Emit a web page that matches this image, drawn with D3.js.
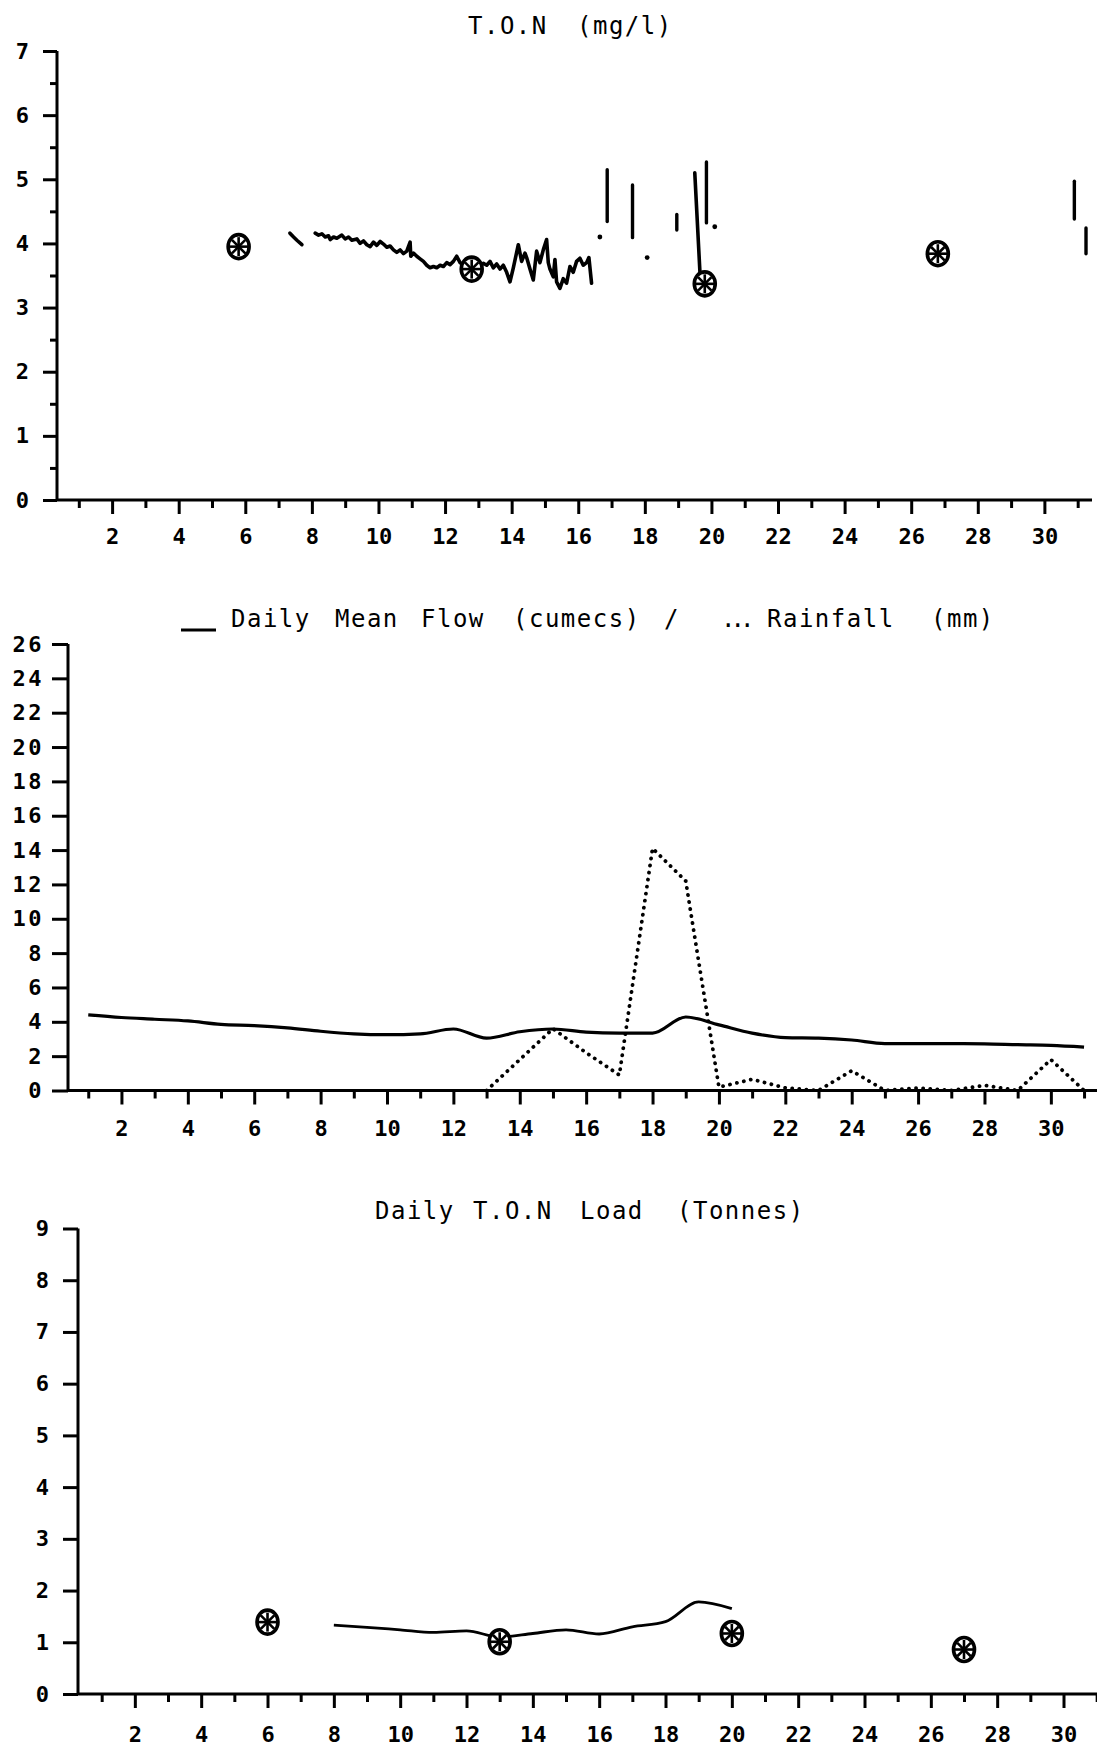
<!DOCTYPE html>
<html>
<head>
<meta charset="utf-8">
<script src="https://cdn.jsdelivr.net/npm/d3@7"></script>
<style>
  body { margin: 0; background: #fff; }
  svg { display: block; }
  text { font-family: "DejaVu Sans Mono", monospace; fill: #000; }
  .tick text { font-size: 22px; font-weight: bold; }
  .title { font-size: 24px; letter-spacing: 1.5px; }
  .domain, .tick line { stroke: #000; stroke-width: 3; }
</style>
</head>
<body>
<div id="chart"></div>
<script>
// ---------- data ----------
const dayTicks = d3.range(1, 32);
const dayLabels = d3.range(2, 31, 2);

// T.O.N (mg/l): spot samples and the continuous monitor trace
const tonSampleDays = [5.8, 12.8, 19.8, 26.8];
const tonSampleValues = [3.95, 3.6, 3.37, 3.84];
const tonTraceA = [[7.34, 4.16], [7.45, 4.10], [7.55, 4.05], [7.7, 3.98]];
const tonTraceB = [
  [8.1, 4.16], [8.2, 4.13], [8.3, 4.15], [8.4, 4.10], [8.5, 4.12], [8.55, 4.06], [8.65, 4.10],
  [8.75, 4.08], [8.9, 4.13], [9.0, 4.07], [9.1, 4.10], [9.2, 4.05], [9.35, 4.07], [9.45, 4.00],
  [9.55, 4.04], [9.65, 3.98], [9.75, 3.95], [9.85, 4.02], [9.95, 3.97], [10.05, 4.03], [10.15, 3.99],
  [10.25, 3.94], [10.35, 3.96], [10.45, 3.90], [10.55, 3.86], [10.65, 3.90], [10.75, 3.84],
  [10.85, 3.88], [10.95, 4.02], [10.97, 3.80], [11.05, 3.85], [11.15, 3.80], [11.25, 3.76],
  [11.35, 3.72], [11.45, 3.66], [11.55, 3.62], [11.65, 3.64], [11.75, 3.62], [11.85, 3.66],
  [11.95, 3.64], [12.05, 3.70], [12.15, 3.67], [12.25, 3.72], [12.35, 3.80], [12.45, 3.70],
  [12.55, 3.66], [12.65, 3.60], [12.75, 3.56], [12.85, 3.62], [12.95, 3.70], [13.05, 3.64],
  [13.15, 3.69], [13.25, 3.66], [13.35, 3.72], [13.45, 3.62], [13.55, 3.68], [13.65, 3.60],
  [13.75, 3.66], [13.85, 3.55], [13.95, 3.40], [14.05, 3.62], [14.15, 3.86], [14.2, 3.98],
  [14.3, 3.72], [14.4, 3.85], [14.45, 3.78], [14.55, 3.60], [14.65, 3.43], [14.75, 3.88],
  [14.85, 3.70], [14.95, 3.90], [15.05, 4.06], [15.1, 3.70], [15.15, 3.60], [15.25, 3.48],
  [15.3, 3.75], [15.35, 3.40], [15.45, 3.30], [15.55, 3.45], [15.65, 3.38], [15.75, 3.64],
  [15.85, 3.55], [15.95, 3.72], [16.05, 3.77], [16.15, 3.66], [16.25, 3.70], [16.32, 3.78],
  [16.4, 3.38]
];
// [day, top, bottom]
const tonSpikes = [[16.87, 5.15, 4.34], [17.63, 4.91, 4.09], [18.96, 4.45, 4.21],
                   [19.85, 5.27, 4.32], [30.9, 4.97, 4.38], [31.25, 4.24, 3.84]];
const tonDrop = [[19.5, 5.10], [19.66, 3.5]];
const tonDots = [[16.65, 4.1], [18.07, 3.78], [20.1, 4.26]];
const tonYTicks = d3.range(0, 8);
const tonYMinor = [0.5, 1.5, 2.5, 3.5, 4.5, 5.5, 6.5];

// Daily mean flow (cumecs) and rainfall (mm)
const flowDays = d3.range(1, 32);
const flowValues = [4.4, 4.25, 4.15, 4.05, 3.85, 3.78, 3.65, 3.45, 3.3, 3.25, 3.3, 3.58, 3.05, 3.42,
                    3.58, 3.4, 3.34, 3.34, 4.28, 3.82, 3.34, 3.08, 3.05, 2.94, 2.73, 2.73, 2.73,
                    2.72, 2.67, 2.63, 2.53];
const rainDays = d3.range(13, 32);
const rainValues = [0, 1.8, 3.6, 2.2, 0.9, 14.1, 12.2, 0.2, 0.65, 0.15, 0, 1.15, 0, 0.15, 0,
                    0.3, 0, 1.8, 0];
const flowYTicks = d3.range(0, 27, 2);

// Daily T.O.N load (tonnes)
const loadDays = d3.range(8, 21);
const loadValues = [1.33, 1.29, 1.24, 1.19, 1.22, 1.10, 1.17, 1.24, 1.16, 1.30, 1.40, 1.78, 1.65];
const loadSampleDays = [6, 13, 20, 27];
const loadSampleValues = [1.39, 1.01, 1.17, 0.86];
const loadYTicks = d3.range(0, 10);

// ---------- layout ----------
const W = 1097, H = 1746;
const svg = d3.select('#chart').append('svg')
  .attr('width', W).attr('height', H);

function panel(cfg) {
  const x = d3.scaleLinear().domain([cfg.dayMin, cfg.dayMax]).range([cfg.left, cfg.right]);
  const y = d3.scaleLinear().domain([0, cfg.yMax]).range([cfg.bottom, cfg.top]);
  const g = svg.append('g');

  // odd-day short ticks
  g.append('g')
    .attr('transform', `translate(0,${cfg.bottom})`)
    .call(d3.axisBottom(x).tickValues(dayTicks.filter(d => d % 2 === 1 && d <= cfg.dayMax))
      .tickSize(8).tickSizeOuter(0).tickFormat(''))
    .call(a => a.select('.domain').remove());
  // even-day long ticks with labels
  g.append('g')
    .attr('transform', `translate(0,${cfg.bottom})`)
    .call(d3.axisBottom(x).tickValues(dayLabels).tickSize(14).tickSizeOuter(0)
      .tickPadding(cfg.xPad).tickFormat(d3.format('d')))
    .call(a => a.select('.domain').attr('d', `M${cfg.left},0H${cfg.right}`));

  if (cfg.yMinor) {
    g.append('g')
      .attr('transform', `translate(${cfg.left},0)`)
      .call(d3.axisLeft(y).tickValues(cfg.yMinor).tickSize(7).tickFormat(''))
      .call(a => a.select('.domain').remove());
  }
  g.append('g')
    .attr('transform', `translate(${cfg.left},0)`)
    .call(d3.axisLeft(y).tickValues(cfg.yTicks).tickSize(cfg.yTick).tickSizeOuter(0)
      .tickPadding(cfg.yPad).tickFormat(d3.format('d')))
    .call(a => a.selectAll('.tick text').style('letter-spacing', cfg.ySpacing || '0px'))
    .call(a => a.select('.domain').attr('d', `M0,${cfg.bottom}V${cfg.top}`));

  return { x, y, g };
}

function sample(g, cx, cy) {
  const m = g.append('g').attr('transform', `translate(${cx},${cy})`);
  m.append('ellipse').attr('rx', 10.5).attr('ry', 12)
    .attr('fill', '#fff').attr('stroke', '#000').attr('stroke-width', 3.6);
  [0, 45, 90, 135].forEach(a => {
    m.append('line').attr('x1', 0).attr('y1', -9.5).attr('x2', 0).attr('y2', 9.5)
      .attr('transform', `rotate(${a})`)
      .attr('stroke', '#000').attr('stroke-width', 2.6);
  });
}

function title(parts, baseline) {
  const t = svg.append('text').attr('class', 'title').attr('y', baseline);
  parts.forEach(p => t.append('tspan').attr('x', p[1])
    .style('letter-spacing', p[2] || null).text(p[0]));
}

// ---------- panel 1: T.O.N ----------
const p1 = panel({ dayMin: 0.345, dayMax: 31.43, left: 57, right: 1092,
  yMax: 7, bottom: 500, top: 51, yTicks: tonYTicks, yMinor: tonYMinor,
  yTick: 14, yPad: 14, xPad: 14 });
title([['T.O.N', 468], ['(mg/l)', 577]], 34);

const line1 = d3.line().x(d => p1.x(d[0])).y(d => p1.y(d[1]));
[tonTraceA, tonTraceB, tonDrop].forEach(s => {
  p1.g.append('path').attr('d', line1(s))
    .attr('fill', 'none').attr('stroke', '#000').attr('stroke-width', 3.6)
    .attr('stroke-linejoin', 'round').attr('stroke-linecap', 'round');
});
p1.g.selectAll('.spike').data(tonSpikes).join('line')
  .attr('x1', d => p1.x(d[0])).attr('x2', d => p1.x(d[0]))
  .attr('y1', d => p1.y(d[1])).attr('y2', d => p1.y(d[2]))
  .attr('stroke', '#000').attr('stroke-width', 3.4).attr('stroke-linecap', 'round');
p1.g.selectAll('.dot').data(tonDots).join('circle')
  .attr('cx', d => p1.x(d[0])).attr('cy', d => p1.y(d[1])).attr('r', 2.4).attr('fill', '#000');
tonSampleDays.forEach((d, i) => sample(p1.g, p1.x(d), p1.y(tonSampleValues[i])));

// ---------- panel 2: flow / rainfall ----------
const p2 = panel({ dayMin: 0.39, dayMax: 31.39, left: 68, right: 1097,
  yMax: 26, bottom: 1090.5, top: 644, yTicks: flowYTicks,
  yTick: 16, yPad: 8, xPad: 16, ySpacing: '2.5px' });
svg.append('line').attr('x1', 181).attr('x2', 216).attr('y1', 630).attr('y2', 630)
  .attr('stroke', '#000').attr('stroke-width', 3);
title([['Daily', 231], ['Mean', 335], ['Flow', 421], ['(cumecs)', 513], ['/', 664],
       ['...', 721, '-5px'], ['Rainfall', 767], ['(mm)', 931]], 627);

const line2 = d3.line().x(d => p2.x(d[0])).y(d => p2.y(d[1]));
p2.g.append('path')
  .attr('d', line2.curve(d3.curveMonotoneX)(flowDays.map((d, i) => [d, flowValues[i]])))
  .attr('fill', 'none').attr('stroke', '#000').attr('stroke-width', 3.2);
p2.g.append('path')
  .attr('d', d3.line().x(d => p2.x(d[0])).y(d => p2.y(d[1]))(rainDays.map((d, i) => [d, rainValues[i]])))
  .attr('fill', 'none').attr('stroke', '#000').attr('stroke-width', 3.8)
  .attr('stroke-dasharray', '0.1,7').attr('stroke-linecap', 'round');

// ---------- panel 3: load ----------
const p3 = panel({ dayMin: 0.286, dayMax: 31.01, left: 78, right: 1097,
  yMax: 9, bottom: 1694, top: 1228.5, yTicks: loadYTicks,
  yTick: 15, yPad: 14, xPad: 18 });
title([['Daily', 375], ['T.O.N', 473], ['Load', 580], ['(Tonnes)', 677]], 1219);

p3.g.append('path')
  .attr('d', d3.line().x(d => p3.x(d[0])).y(d => p3.y(d[1])).curve(d3.curveMonotoneX)
    (loadDays.map((d, i) => [d, loadValues[i]])))
  .attr('fill', 'none').attr('stroke', '#000').attr('stroke-width', 2.8);
loadSampleDays.forEach((d, i) => sample(p3.g, p3.x(d), p3.y(loadSampleValues[i])));
</script>
</body>
</html>
